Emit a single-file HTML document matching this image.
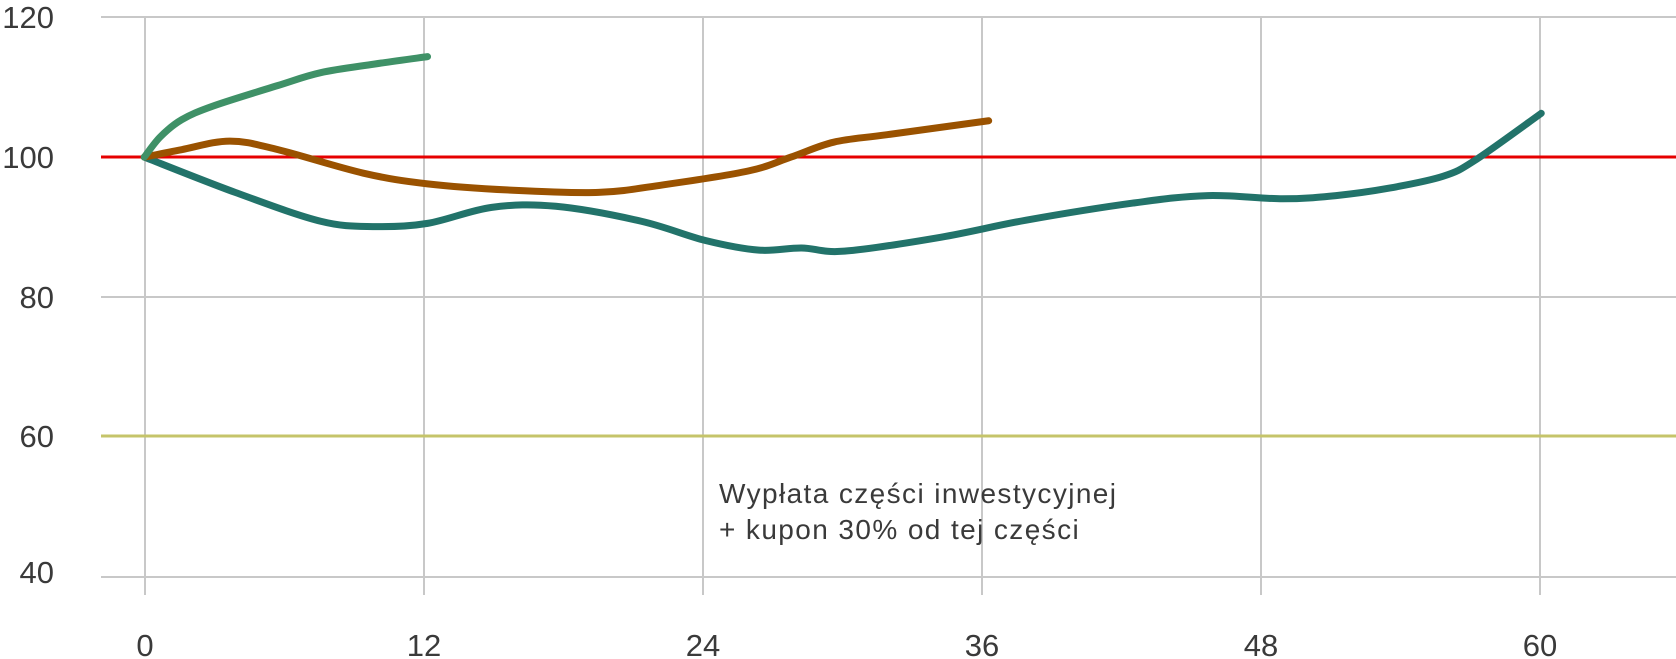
<!DOCTYPE html>
<html><head><meta charset="utf-8"><style>
html,body{margin:0;padding:0;background:#fff;}
svg{display:block;}
text{font-family:"Liberation Sans",sans-serif;fill:#3a3a3a;}
</style></head><body>
<svg id="s" width="1676" height="659" viewBox="0 0 1676 659" xmlns="http://www.w3.org/2000/svg">
<g stroke="#c8c8c8" stroke-width="2">
<line x1="101" y1="17" x2="1676" y2="17"/>
<line x1="101" y1="297" x2="1676" y2="297"/>
<line x1="101" y1="577" x2="1676" y2="577"/>
<line x1="145" y1="17" x2="145" y2="595"/>
<line x1="424" y1="17" x2="424" y2="595"/>
<line x1="703" y1="17" x2="703" y2="595"/>
<line x1="982" y1="17" x2="982" y2="595"/>
<line x1="1261" y1="17" x2="1261" y2="595"/>
<line x1="1540" y1="17" x2="1540" y2="595"/>
</g>
<line x1="101" y1="157" x2="1676" y2="157" stroke="#e60000" stroke-width="3"/>
<line x1="101" y1="436" x2="1676" y2="436" stroke="#c5c46a" stroke-width="3"/>
<g font-size="31" font-weight="300">
<text x="54" y="28" text-anchor="end">120</text>
<text x="54" y="168" text-anchor="end">100</text>
<text x="54" y="308" text-anchor="end">80</text>
<text x="54" y="447" text-anchor="end">60</text>
<text x="54" y="583" text-anchor="end">40</text>
<g text-anchor="middle">
<text x="145" y="656">0</text>
<text x="424" y="656">12</text>
<text x="703" y="656">24</text>
<text x="982" y="656">36</text>
<text x="1261" y="656">48</text>
<text x="1540" y="656">60</text>
</g></g>
<g font-size="28" letter-spacing="1.4">
<text x="719" y="503">Wypłata części inwestycyjnej</text>
<text x="719" y="539">+ kupon 30% od tej części</text>
</g>
<g id="lines" fill="none" stroke-width="7" stroke-linecap="round" stroke-linejoin="round"></g>
</svg>
<script>
var k=1/0.9356;
function path(pts,col){
 pts=pts.map(function(p){return [p[0]*k,p[1]*k];});
 var d="M"+pts[0][0]+","+pts[0][1];
 for(var i=0;i<pts.length-1;i++){
  var p0=pts[i-1]||pts[i],p1=pts[i],p2=pts[i+1],p3=pts[i+2]||p2;
  var c1=[p1[0]+(p2[0]-p0[0])/6,p1[1]+(p2[1]-p0[1])/6];
  var c2=[p2[0]-(p3[0]-p1[0])/6,p2[1]-(p3[1]-p1[1])/6];
  d+=" C"+c1+" "+c2+" "+p2;
 }
 var e=document.createElementNS("http://www.w3.org/2000/svg","path");
 e.setAttribute("d",d);e.setAttribute("stroke",col);
 document.getElementById("lines").appendChild(e);
}
path([[135,147],[220,180],[300,207],[350,212],[400,209],[460,194],[520,193],[600,207],[660,225],[710,234],[750,232],[790,235],[880,222],[960,206],[1060,190],[1130,183],[1200,186],[1250,183],[1300,176],[1350,165],[1380,150],[1442,106]],"#22736a");
path([[135,147],[170,140],[215,132],[260,140],[340,162],[400,172],[480,178],[560,180],[620,173],[700,160],[740,147],[780,133],[830,126],[925,113]],"#9a5200");
path([[135,147],[150,128],[170,112],[200,99],[260,80],[300,68],[350,60],[400,53]],"#3f9167");
</script>
</body></html>
